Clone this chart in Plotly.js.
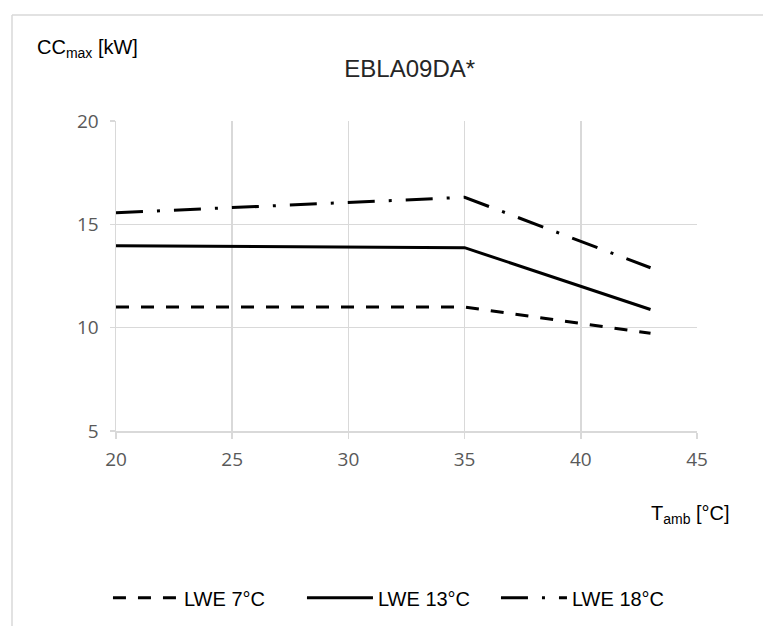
<!DOCTYPE html>
<html>
<head>
<meta charset="utf-8">
<script src="https://cdn.plot.ly/plotly-3.0.1.min.js"></script>
<style>html,body{margin:0;padding:0;background:#fff;}#chart{width:763px;height:626px;}</style>
</head>
<body>
<div id="chart"></div>
<script>
const tamb = [20, 35, 43];
const lwe7 = [11.0, 11.0, 9.73];
const lwe13 = [13.96, 13.87, 10.88];
const lwe18 = [15.56, 16.31, 12.9];
const seriesNames = ['LWE 7°C', 'LWE 13°C', 'LWE 18°C'];
const xTicks = [20, 25, 30, 35, 40, 45];
const yTicks = [5, 10, 15, 20];

const narrow = '"Liberation Sans Narrow", "Arial Narrow", "Liberation Sans", Arial, sans-serif';
const tickFont = {family: '"Open Sans", "Noto Sans", sans-serif', size: 19, color: '#595959'};

const traces = [
  {x: tamb, y: lwe7, name: seriesNames[0], mode: 'lines', line: {color: '#000', width: 3, dash: '13px,12px'}},
  {x: tamb, y: lwe13, name: seriesNames[1], mode: 'lines', line: {color: '#000', width: 3}},
  {x: tamb, y: lwe18, name: seriesNames[2], mode: 'lines', line: {color: '#000', width: 3, dash: '27px,14px,3px,14px'}}
];

const layout = {
  width: 763, height: 626,
  margin: {l: 116, r: 66, t: 121, b: 195},
  paper_bgcolor: '#fff', plot_bgcolor: '#fff',
  showlegend: true,
  title: {text: 'EBLA09DA*', font: {family: narrow, size: 24, color: '#262626'}, x: 0.537, xanchor: 'center', y: 0.89, yanchor: 'middle'},
  xaxis: {
    range: [20, 45], tickvals: xTicks, ticktext: xTicks.map(String),
    showgrid: true, gridcolor: '#d9d9d9', gridwidth: 1.5,
    showline: true, linecolor: '#d9d9d9', linewidth: 1.5,
    ticks: 'outside', ticklen: 6, tickcolor: '#d9d9d9', tickwidth: 1.5,
    ticklabelstandoff: 5,
    tickfont: tickFont, zeroline: false, fixedrange: true
  },
  yaxis: {
    range: [5, 20], tickvals: yTicks, ticktext: yTicks.map(String),
    showgrid: true, gridcolor: '#d9d9d9', gridwidth: 1.5,
    showline: true, linecolor: '#d9d9d9', linewidth: 1.5,
    ticks: 'outside', ticklen: 5, tickcolor: '#d9d9d9', tickwidth: 1.5,
    ticklabelstandoff: 7,
    tickfont: tickFont, zeroline: false, fixedrange: true
  },
  legend: {
    orientation: 'h', xref: 'container', yref: 'container',
    x: 0.1415, xanchor: 'left', y: 0.045, yanchor: 'middle',
    font: {family: narrow, size: 20, color: '#000'},
    itemwidth: 66, entrywidth: 113, tracegroupgap: 0
  },
  annotations: [
    {xref: 'paper', yref: 'paper', x: -0.14, y: 1.235, xanchor: 'left', yanchor: 'middle', showarrow: false,
     text: 'CC<sub>max</sub> [kW]', font: {family: narrow, size: 20, color: '#000'}},
    {xref: 'paper', yref: 'paper', x: 1.06, y: -0.27, xanchor: 'right', yanchor: 'middle', showarrow: false,
     text: 'T<sub>amb</sub> [°C]', font: {family: narrow, size: 20, color: '#000'}}
  ],
  shapes: [
    {type: 'line', xref: 'paper', yref: 'paper', x0: -0.179, x1: 1.2, y0: 1.342, y1: 1.342, line: {color: '#d9d9d9', width: 1.5}},
    {type: 'line', xref: 'paper', yref: 'paper', x0: -0.179, x1: -0.179, y0: 1.342, y1: -0.7, line: {color: '#d9d9d9', width: 1.5}}
  ]
};

Plotly.newPlot('chart', traces, layout, {displayModeBar: false, staticPlot: true});
</script>
</body>
</html>
